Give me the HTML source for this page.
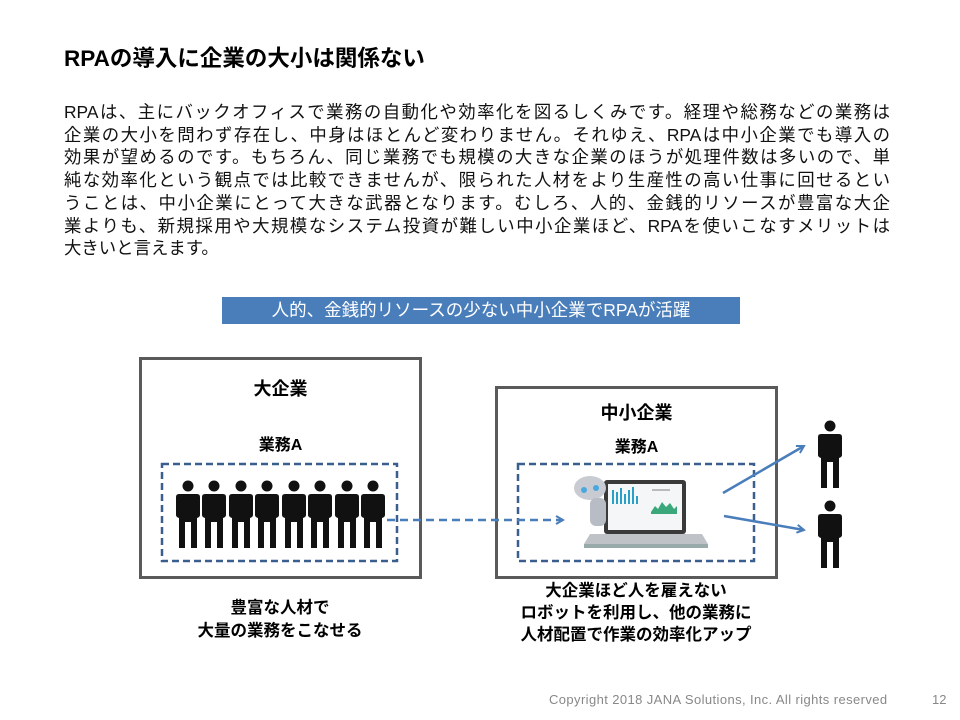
<!DOCTYPE html>
<html><head><meta charset="utf-8"><style>
body{margin:0;width:960px;height:720px;background:#fff;position:relative;overflow:hidden;font-family:"Liberation Sans","Noto Sans CJK JP",sans-serif;color:#000}
.a{position:absolute;white-space:nowrap}
.t{left:64px;top:41px;font-size:22.5px;font-weight:bold}
.p{left:64px;width:826px;font-size:17.4px;line-height:22px;text-align:justify;text-align-last:justify;color:#111}
.ban{left:222px;top:297px;width:518px;height:27px;background:#4a7ebb;color:#fff;font-size:17.5px;line-height:27px;text-align:center}
.box{position:absolute;border:3px solid #5a5a5a;box-sizing:border-box}
.b{font-weight:bold;text-align:center}
</style></head><body>
<div class="a t">RPAの導入に企業の大小は関係ない</div>
<div class="a p" style="top:101px">RPAは、主にバックオフィスで業務の自動化や効率化を図るしくみです。経理や総務などの業務は</div>
<div class="a p" style="top:123.7px">企業の大小を問わず存在し、中身はほとんど変わりません。それゆえ、RPAは中小企業でも導入の</div>
<div class="a p" style="top:146.4px">効果が望めるのです。もちろん、同じ業務でも規模の大きな企業のほうが処理件数は多いので、単</div>
<div class="a p" style="top:169.1px">純な効率化という観点では比較できませんが、限られた人材をより生産性の高い仕事に回せるとい</div>
<div class="a p" style="top:191.8px">うことは、中小企業にとって大きな武器となります。むしろ、人的、金銭的リソースが豊富な大企</div>
<div class="a p" style="top:214.5px">業よりも、新規採用や大規模なシステム投資が難しい中小企業ほど、RPAを使いこなすメリットは</div>
<div class="a p" style="top:237.2px;width:auto;text-align-last:auto">大きいと言えます。</div>
<div class="a ban">人的、金銭的リソースの少ない中小企業でRPAが活躍</div>
<div class="box" style="left:139px;top:357px;width:283px;height:222px"></div>
<div class="box" style="left:495px;top:386px;width:283px;height:193px"></div>
<div class="a b" style="left:139px;width:283px;top:375px;font-size:18px">大企業</div>
<div class="a b" style="left:139px;width:283px;top:431px;font-size:16px">業務A</div>
<div class="a b" style="left:495px;width:283px;top:399px;font-size:18px">中小企業</div>
<div class="a b" style="left:495px;width:283px;top:433px;font-size:16px">業務A</div>
<div class="a b" style="left:140px;width:280px;top:597px;font-size:16.5px;line-height:23px">豊富な人材で<br>大量の業務をこなせる</div>
<div class="a b" style="left:496px;width:280px;top:580px;font-size:16.5px;line-height:22px">大企業ほど人を雇えない<br>ロボットを利用し、他の業務に<br>人材配置で作業の効率化アップ</div>
<div class="a" style="left:549px;top:692px;font-size:13px;letter-spacing:0.4px;color:#888">Copyright 2018 JANA Solutions, Inc. All rights reserved</div>
<div class="a" style="left:932px;top:692px;font-size:13px;color:#888">12</div>
<svg width="960" height="720" style="position:absolute;left:0;top:0">
<defs>
<g id="pp"><circle cx="0" cy="-36" r="5.5"/><path d="M-9,-28 h18 q3,0 3,3 l0,18 q0,2 -3,3 v30 h-6 v-26 h-6 v26 h-6 v-30 q-3,-1 -3,-3 l0,-18 q0,-3 3,-3z"/></g>
<marker id="ar" markerWidth="10" markerHeight="10" refX="8" refY="5" orient="auto" markerUnits="userSpaceOnUse"><path d="M1,1 L8,5 L1,9" fill="none" stroke="#4a7ebb" stroke-width="2"/></marker>
</defs>
<rect x="162" y="464" width="235" height="97" fill="none" stroke="#3a5f8f" stroke-width="2.5" stroke-dasharray="7,4"/>
<rect x="518" y="464" width="236" height="97" fill="none" stroke="#3a5f8f" stroke-width="2.5" stroke-dasharray="7,4"/>
<g fill="#111">
<use href="#pp" x="188" y="522"/><use href="#pp" x="214" y="522"/><use href="#pp" x="241" y="522"/><use href="#pp" x="267" y="522"/><use href="#pp" x="294" y="522"/><use href="#pp" x="320" y="522"/><use href="#pp" x="347" y="522"/><use href="#pp" x="373" y="522"/>
<use href="#pp" x="830" y="462"/><use href="#pp" x="830" y="542"/>
</g>
<line x1="387" y1="520" x2="563" y2="520" stroke="#4a7ebb" stroke-width="2.5" stroke-dasharray="8,5" marker-end="url(#ar)"/>
<line x1="723" y1="493" x2="804" y2="446" stroke="#4a7ebb" stroke-width="2.5" marker-end="url(#ar)"/>
<line x1="724" y1="516" x2="804" y2="530" stroke="#4a7ebb" stroke-width="2.5" marker-end="url(#ar)"/>
<rect x="604" y="480" width="82" height="54" rx="3" fill="#3a3a3a"/>
<rect x="608" y="484" width="74" height="46" fill="#f4f6f8"/>
<g fill="#2aa0c8"><rect x="612" y="490" width="2" height="14"/><rect x="616" y="492" width="2" height="12"/><rect x="620" y="488" width="2" height="16"/><rect x="624" y="494" width="2" height="10"/><rect x="628" y="490" width="2" height="14"/><rect x="632" y="487" width="2" height="17"/><rect x="636" y="496" width="2" height="8"/></g>
<path d="M651,512 l4,-6 3,3 4,-7 4,5 4,-4 4,6 3,-3 v8 h-26z" fill="#3aa87a"/>
<rect x="652" y="489" width="18" height="2" fill="#bbb"/>
<path d="M590,534 h112 l6,10 h-124z" fill="#bfc3c8"/><rect x="584" y="544" width="124" height="4" fill="#9aa"/>
<ellipse cx="590" cy="488" rx="16" ry="12" fill="#c8ccd2"/><circle cx="584" cy="490" r="3" fill="#4aa8e0"/><circle cx="596" cy="488" r="3" fill="#4aa8e0"/>
<rect x="590" y="498" width="16" height="28" rx="6" fill="#b8bcc4"/>
</svg>
</body></html>
